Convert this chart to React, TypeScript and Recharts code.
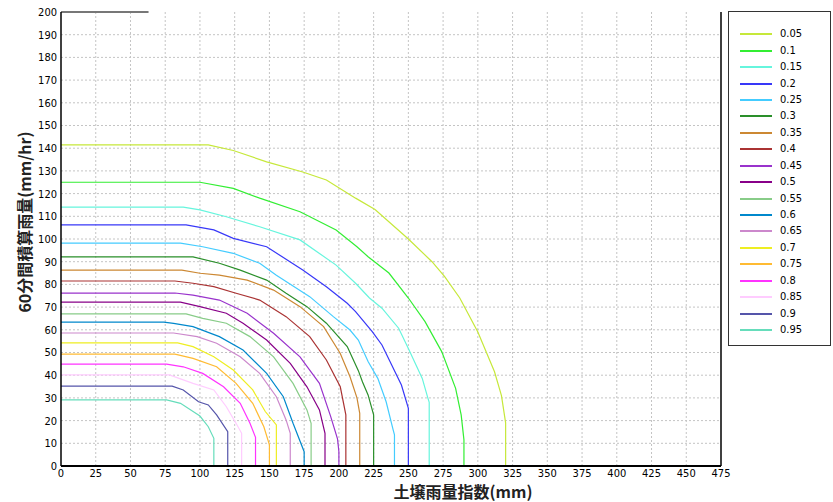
import { LineChart, Line, XAxis, YAxis, CartesianGrid, Legend, ReferenceLine } from 'recharts';

// 表示ラベル（超過確率）
const levels = ['0.05', '0.1', '0.15', '0.2', '0.25', '0.3', '0.35', '0.4', '0.45', '0.5', '0.55', '0.6', '0.65', '0.7', '0.75', '0.8', '0.85', '0.9', '0.95'];

const colors = ['#c6e83a', '#33ee33', '#66f5dd', '#3838f8', '#44ccff', '#2a8f2a', '#cc8833', '#aa3333', '#9933cc', '#880088', '#88cc88', '#0088cc', '#cc88cc', '#eeee22', '#ffbb33', '#ff33ff', '#ffccff', '#5555aa', '#66ddbb'];

// [土壌雨量指数, 60分間積算雨量]
const s005 = [[0, 141.5], [106, 141.5], [124, 139], [148, 134], [174, 129.5], [191, 126], [212, 118], [226, 113], [250, 100], [267, 90], [276, 83.5], [287, 74], [300, 59], [312, 41.5], [317, 31], [320, 19], [320, 0]];
const s010 = [[0, 125], [100, 125], [124, 122.3], [143, 118], [172, 112], [198, 104], [213, 96.6], [221, 92.2], [236, 85], [250, 74], [262, 63.6], [274, 50.4], [284, 34.2], [288, 22.5], [290, 11.5], [290, 0]];
const s015 = [[0, 114], [88, 114], [100, 112.8], [119, 109.8], [143, 105.4], [172, 99.6], [198, 88.5], [212, 80.5], [222, 74], [231, 69.5], [243, 60.7], [250, 51.8], [260, 38.6], [264, 30], [265, 28], [265, 0]];
const s020 = [[0, 106.2], [90, 106.2], [110, 104], [124, 100.3], [148, 96.6], [174, 86.3], [191, 79], [206, 71.7], [212, 68], [224, 59.2], [231, 53.3], [238, 44.5], [245, 35.7], [250, 25.4], [250, 0]];
const s025 = [[0, 98.2], [86, 98.2], [102, 96.6], [124, 93.7], [143, 89.3], [155, 84], [179, 74.6], [196, 65.8], [208, 59.9], [214, 55.5], [221, 46], [228, 38.6], [234, 28.3], [239, 16], [240, 13.7], [240, 0]];
const s030 = [[0, 92.1], [95, 92.1], [114, 89.3], [129, 86.3], [148, 81.9], [162, 76.1], [177, 70.2], [191, 62.9], [206, 52.6], [214, 42], [217, 37], [221, 31.3], [225, 22.5], [225, 0]];
const s035 = [[0, 86.3], [87, 86.3], [100, 84.9], [114, 84.1], [134, 81.9], [153, 77.5], [172, 70.2], [189, 61.4], [201, 49.6], [208, 39.3], [213, 30], [215, 23.2], [215, 0]];
const s040 = [[0, 81.5], [82, 81.5], [95, 80.5], [110, 79], [126, 76.1], [143, 73.1], [162, 65.8], [179, 57], [191, 46.7], [201, 34.9], [205, 22.5], [205, 0]];
const s045 = [[0, 76.2], [82, 76.2], [95, 75.3], [114, 73.1], [134, 67.3], [153, 58.5], [172, 48.1], [186, 36.4], [194, 22], [199, 12], [200, 6.3], [200, 0]];
const s050 = [[0, 72.2], [86, 72.2], [100, 70.2], [119, 67.3], [131, 62.9], [148, 55.5], [165, 45.2], [177, 34.9], [186, 24.7], [190, 14.4], [190, 0]];
const s055 = [[0, 67], [90, 67], [102, 65], [119, 62.9], [136, 57], [153, 48.1], [167, 36.4], [177, 24.7], [180, 18.8], [180, 0]];
const s060 = [[0, 63.4], [74, 63.4], [81, 62.8], [95, 61.4], [114, 57], [131, 51.1], [148, 40.8], [160, 30.5], [167, 18.8], [175, 6.3], [175, 0]];
const s065 = [[0, 58.6], [81, 58.6], [98, 57], [112, 54.1], [129, 48.1], [143, 40.8], [155, 30.5], [162, 20.3], [165, 14.4], [165, 0]];
const s070 = [[0, 54.2], [84, 54.2], [95, 52.6], [110, 48.1], [124, 42.3], [138, 33.5], [147, 24], [155, 18.1], [155, 0]];
const s075 = [[0, 49.3], [82, 49.3], [95, 47.4], [112, 43.7], [126, 36.4], [138, 27.6], [146, 17.3], [150, 9.3], [150, 0]];
const s080 = [[0, 44.9], [76, 44.9], [88, 43.7], [102, 40.8], [117, 34.9], [129, 27.6], [136, 18.8], [140, 12.6], [140, 0]];
const s085 = [[0, 40.1], [78, 40.1], [95, 36.4], [110, 33.5], [119, 26.1], [126, 18.8], [130, 14.4], [130, 0]];
const s090 = [[0, 35.2], [80, 35.2], [88, 33.5], [99, 28.3], [106, 26.9], [112, 22.5], [120, 15.1], [120, 0]];
const s095 = [[0, 29.1], [76, 29.1], [86, 27.6], [100, 22], [106, 17.3], [110, 12.2], [110, 0]];

const curves = [s005, s010, s015, s020, s025, s030, s035, s040, s045, s050, s055, s060, s065, s070, s075, s080, s085, s090, s095];

const xTicks = [0, 25, 50, 75, 100, 125, 150, 175, 200, 225, 250, 275, 300, 325, 350, 375, 400, 425, 450, 475];
const yTicks = [0, 10, 20, 30, 40, 50, 60, 70, 80, 90, 100, 110, 120, 130, 140, 150, 160, 170, 180, 190, 200];

const series = curves.map((c, i) => ({
  name: levels[i],
  color: colors[i],
  data: c.map(([x, y]) => ({ x, y })),
}));

const tickFont = "'Liberation Sans Narrow', 'DejaVu Sans Condensed', sans-serif";
const labelFont = "'Noto Sans CJK JP', sans-serif";

const LegendBox = () => (
  <div
    style={{
      width: 103,
      height: 335,
      border: '1px solid #333',
      boxSizing: 'border-box',
      background: '#fff',
      position: 'relative',
      fontFamily: tickFont,
      fontSize: 11,
      color: '#000',
    }}
  >
    {series.map((s, i) => (
      <div key={s.name} style={{ position: 'absolute', left: 11, top: 22.3 + i * 16.43 - 7, height: 14, width: 90 }}>
        <div style={{ position: 'absolute', left: 0, top: 6, width: 32, height: 2, background: s.color }} />
        <span style={{ position: 'absolute', left: 40, top: 0, lineHeight: '14px' }}>{s.name}</span>
      </div>
    ))}
  </div>
);

const XLabel = (props: any) => {
  const vb = props.viewBox;
  return (
    <text x={vb.x + vb.width / 2 + 72} y={498} textAnchor="middle" fontFamily={labelFont} fontWeight="bold" fontSize={16} fill="#222">
      土壌雨量指数(mm)
    </text>
  );
};

const YLabel = () => (
  <text x={24} y={222} transform="rotate(-90, 24, 222)" textAnchor="middle" dominantBaseline="central" fontFamily={labelFont} fontWeight="bold" fontSize={16} fill="#222">
    60分間積算雨量(mm/hr)
  </text>
);

export default function App() {
  return (
    <div style={{ position: 'absolute', left: 0, top: 0, width: 833, height: 502, background: '#fff' }}>
      <LineChart width={833} height={502} margin={{ top: 12, right: 112, bottom: 16, left: 0 }}>
        <CartesianGrid
          stroke="#c4c4c4"
          strokeDasharray="2 2"
          horizontalValues={yTicks.slice(1, -1)}
          verticalValues={xTicks.slice(1, -1)}
        />
        <XAxis
          type="number"
          dataKey="x"
          domain={[0, 475]}
          ticks={xTicks}
          interval={0}
          height={20}
          tickLine={false}
          tickSize={0}
          tickMargin={3}
          axisLine={{ stroke: '#000', strokeWidth: 2 }}
          tick={{ fontFamily: tickFont, fontSize: 11, fill: '#000' }}
          allowDataOverflow
          label={<XLabel />}
        />
        <YAxis
          type="number"
          dataKey="y"
          domain={[0, 200]}
          ticks={yTicks}
          interval={0}
          width={61}
          tickLine={false}
          tickSize={0}
          tickMargin={4}
          axisLine={{ stroke: '#000', strokeWidth: 1.5 }}
          tick={{ fontFamily: tickFont, fontSize: 11, fill: '#000' }}
          allowDataOverflow
          label={<YLabel />}
        />
        <ReferenceLine x={475} stroke="#000" strokeWidth={1.5} />
        <ReferenceLine segment={[{ x: 0, y: 200 }, { x: 63, y: 200 }]} stroke="#777" strokeWidth={2} />
        {series.map((s) => (
          <Line
            key={s.name}
            data={s.data}
            dataKey="y"
            name={s.name}
            stroke={s.color}
            strokeWidth={1.2}
            dot={false}
            activeDot={false}
            type="linear"
            isAnimationActive={false}
          />
        ))}
        <Legend
          layout="vertical"
          align="center"
          verticalAlign="middle"
          content={<LegendBox />}
          wrapperStyle={{ left: 728, top: 11, width: 103, height: 335 }}
        />
      </LineChart>
    </div>
  );
}
